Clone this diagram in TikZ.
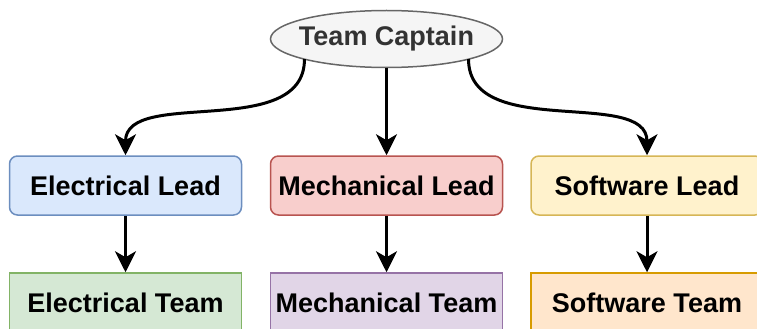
\documentclass[tikz,border=0pt]{standalone}
\usepackage{fontspec}
\setmainfont{Liberation Sans}
\usetikzlibrary{shapes.geometric,arrows.meta}
\definecolor{capfill}{HTML}{F5F5F5}
\definecolor{capdraw}{HTML}{666666}
\definecolor{captext}{HTML}{333333}
\definecolor{bluefill}{HTML}{DAE8FC}
\definecolor{bluedraw}{HTML}{6C8EBF}
\definecolor{redfill}{HTML}{F8CECC}
\definecolor{reddraw}{HTML}{B85450}
\definecolor{yelfill}{HTML}{FFF2CC}
\definecolor{yeldraw}{HTML}{D6B656}
\definecolor{grnfill}{HTML}{D5E8D4}
\definecolor{grndraw}{HTML}{82B366}
\definecolor{purfill}{HTML}{E1D5E7}
\definecolor{purdraw}{HTML}{9673A6}
\definecolor{orafill}{HTML}{FFE6CC}
\definecolor{oradraw}{HTML}{D79B00}
\tikzset{
  boxbase/.style={draw, line width=1.5pt, minimum width=232pt, minimum height=59pt, inner sep=0pt,
    font=\fontsize{27}{32}\selectfont\bfseries, text=black},
  leadbox/.style={boxbase, rounded corners=8pt},
  teambox/.style={boxbase},
  conn/.style={line width=3pt, -{Stealth[length=21pt,width=21pt,inset=6pt]}},
}
\begin{document}
\begin{tikzpicture}[x=1pt,y=-1pt]
\useasboundingbox (0,0) rectangle (757,329);
\clip (0,0) rectangle (757,329);
\node[ellipse, draw=capdraw, fill=capfill, line width=1.5pt, minimum width=232pt, minimum height=57pt,
  inner xsep=-6pt, inner ysep=0pt, outer sep=0pt,
  font=\fontsize{27}{32}\selectfont\bfseries, text=captext] (cap) at (386.5,39) {Team Captain};
\node[leadbox, draw=bluedraw, fill=bluefill] (el) at (125.5,185.5) {Electrical Lead};
\node[leadbox, draw=reddraw, fill=redfill] (ml) at (386.5,185.5) {Mechanical Lead};
\node[leadbox, draw=yeldraw, fill=yelfill] (sl) at (647,185.5) {Software Lead};
\node[teambox, draw=grndraw, fill=grnfill] (et) at (125.5,302.5) {Electrical Team};
\node[teambox, draw=purdraw, fill=purfill] (mt) at (386.5,302.5) {Mechanical Team};
\node[teambox, draw=oradraw, fill=orafill] (st) at (647,302.5) {Software Team};
\draw[conn] (cap.south west) .. controls ([yshift=-82pt]cap.south west) and ([yshift=68pt]el.north) .. (el.north);
\draw[conn] (cap.south) -- (ml.north);
\draw[conn] (cap.south east) .. controls ([yshift=-82pt]cap.south east) and ([yshift=68pt]sl.north) .. (sl.north);
\draw[conn] (el.south) -- (et.north);
\draw[conn] (ml.south) -- (mt.north);
\draw[conn] (sl.south) -- (st.north);
\end{tikzpicture}
\end{document}
